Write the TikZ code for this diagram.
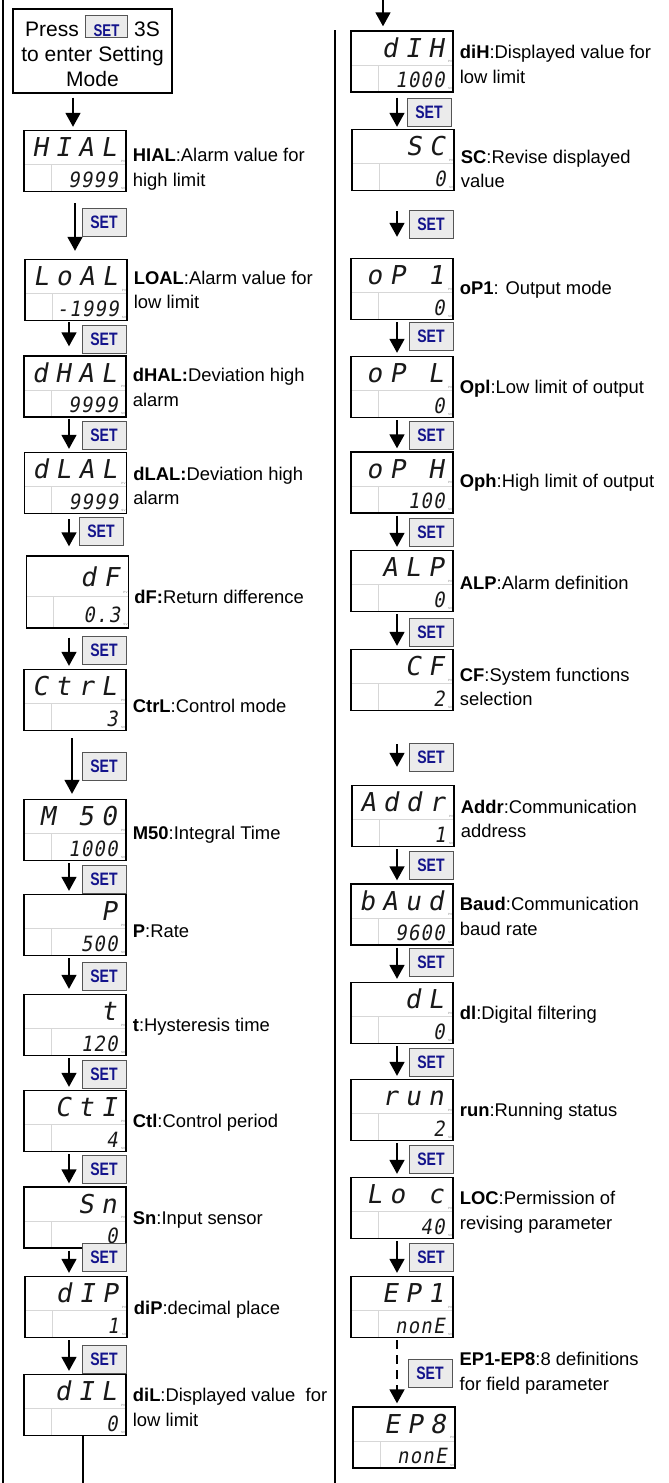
\documentclass[tikz,border=0pt]{standalone}
\usepackage{fontspec}
\setmainfont{Liberation Sans}
\newfontfamily\setbtnfont[FakeStretch=0.78]{Liberation Sans}
\newfontfamily\lcdtopfont[LetterSpace=28,FakeSlant=0.18]{DejaVu Sans Mono}
\newfontfamily\lcdbotfont[LetterSpace=6,FakeStretch=0.9,FakeSlant=0.18]{DejaVu Sans Mono}
\usetikzlibrary{positioning,calc,arrows.meta}
\definecolor{setblue}{RGB}{20,20,140}
\definecolor{setfill}{RGB}{235,235,235}
\definecolor{setedge}{RGB}{85,85,85}
\definecolor{lcdgrid}{RGB}{215,215,215}
\definecolor{lcdink}{RGB}{25,25,25}
% one empty digit cell of the display
\newcommand{\blank}{\hspace{22.9pt}}
% display: [extra style]{name}{centre}{upper row}{lower row}
\newcommand{\lcd}[5][]{%
  \node[lcd,#1] (#2) at (#3) {};
  \node[lcdtop] (#2t) at ($(#2.north east)!0.43!(#2.south east)+(-10,0)$) {#4};
  \node[lcdbot] (#2b) at ($(#2.north east)!0.92!(#2.south east)+(-9,0)$) {#5};
  \node[lcdtag] (#2pv) at ($(#2.north east)!0.5!(#2.south east)+(-1.5,0)$) {PV};
  \node[lcdtag] (#2sv) at ($(#2.north east)!0.94!(#2.south east)+(-1.5,0)$) {SV};
}
% the small key inside the first box
\newcommand{\pressbtn}{{\setlength{\fboxsep}{0pt}\setlength{\fboxrule}{0.8pt}%
  \fcolorbox{setedge}{setfill}{\makebox[42pt]{\rule[-1pt]{0pt}{21pt}%
  \setbtnfont\bfseries\fontsize{17}{17}\selectfont\color{setblue}SET}}}}
\begin{document}
\begin{tikzpicture}[x=1pt,y=-1pt,node distance=6pt,every node/.style={inner sep=1pt}]
\tikzstyle{arrow}=[draw,line width=1.8pt,-{Triangle[width=15pt,length=14pt]},shorten <=2pt,shorten >=3pt]
\tikzstyle{frame}=[draw,line width=1.6pt]
\tikzstyle{lcd}=[draw=black,line width=1.4pt,fill=white,minimum width=102pt,minimum height=61pt,inner sep=0pt,
  path picture={\draw[lcdgrid,line width=1pt]
    ($(path picture bounding box.north west)!0.56!(path picture bounding box.south west)$) coordinate (g)
    -- ($(path picture bounding box.north east)!0.56!(path picture bounding box.south east)$)
    (g) ++(27,0) -- ++(0,40);}]
\tikzstyle{lcdtop}=[anchor=base east,inner sep=0pt,text=lcdink,font=\lcdtopfont\fontsize{26}{26}\selectfont]
\tikzstyle{lcdbot}=[anchor=base east,inner sep=0pt,text=lcdink,font=\lcdbotfont\fontsize{21}{21}\selectfont]
\tikzstyle{lcdtag}=[anchor=east,inner sep=0pt,text=gray,font=\fontsize{3}{3}\selectfont]
\tikzstyle{setbtn}=[draw=setedge,fill=setfill,line width=1pt,minimum width=44pt,minimum height=28pt,inner sep=0pt,
  text=setblue,font=\setbtnfont\bfseries\fontsize{18}{18}\selectfont]
\tikzstyle{lbl}=[align=left,inner sep=0pt,font=\fontsize{18.4}{24.5}\selectfont]
\useasboundingbox (0,0) rectangle (669,1483);

% frame lines
\coordinate (ftop) at (3,0);
\coordinate (fbot) at (3,1483);
\coordinate (stop) at (335,30);
\coordinate (sbot) at (335,1483);
\path[frame](ftop)--(fbot);
\path[frame](stop)--(sbot);

% arrow columns
\coordinate (ax) at (73,0);
\coordinate (bx) at (75,0);
\coordinate (cx) at (72,0);
\coordinate (lx) at (69,0);
\coordinate (rx) at (397,0);
\coordinate (rtop) at (383,0);
\coordinate (lend) at (83,1483);

\node[draw,line width=1.3pt,minimum width=159pt,minimum height=84pt,align=center,inner sep=0pt,
  font=\fontsize{21}{25}\selectfont](start) at (92.5,51){Press \pressbtn{} 3S\\to enter Setting\\Mode};

% left column
\lcd{l1}{75,161}{HIAL}{9999}
\lcd{l2}{76,290}{LoAL}{-1999}
\lcd{l3}{75,386.5}{dHAL}{9999}
\lcd{l4}{75.5,483}{dLAL}{9999}
\lcd[minimum height=72pt]{l5}{77.5,592}{dF\blank}{0.3}
\lcd{l6}{75,700}{CtrL}{3}
\lcd{l7}{75,830}{M\blank 50}{1000}
\lcd{l8}{75,925}{P\blank}{500}
\lcd{l9}{75,1025}{t\blank}{120}
\lcd{l10}{75,1121}{CtI}{4}
\lcd{l11}{75,1217.5}{Sn\blank}{0}
\lcd{l12}{76,1307}{dIP}{1}
\lcd{l13}{75,1405}{dIL}{0}

\node[lbl,right=6pt of l1,yshift=-8pt](lt1){\textbf{HIAL}:Alarm value for\\high limit};
\node[lbl,right=6pt of l2](lt2){\textbf{LOAL}:Alarm value for\\low limit};
\node[lbl,right=6pt of l3,yshift=-1pt](lt3){\textbf{dHAL:}Deviation high\\alarm};
\node[lbl,right=6pt of l4,yshift=-3pt](lt4){\textbf{dLAL:}Deviation high\\alarm};
\node[lbl,right=5pt of l5,yshift=-5pt](lt5){\textbf{dF:}Return difference};
\node[lbl,right=6pt of l6,yshift=-6pt](lt6){\textbf{CtrL}:Control mode};
\node[lbl,right=6pt of l7,yshift=-5pt](lt7){\textbf{M50}:Integral Time};
\node[lbl,right=6pt of l8,yshift=-6pt](lt8){\textbf{P}:Rate};
\node[lbl,right=6pt of l9,yshift=-2pt](lt9){\textbf{t}:Hysteresis time};
\node[lbl,right=6pt of l10,yshift=-2pt](lt10){\textbf{Ctl}:Control period};
\node[lbl,right=6pt of l11,yshift=-2pt](lt11){\textbf{Sn}:Input sensor};
\node[lbl,right=6pt of l12,yshift=-3pt](lt12){\textbf{diP}:decimal place};
\node[lbl,right=6pt of l13,yshift=-2.5pt](lt13){\textbf{diL}:Displayed value\ \ for\\low limit};

\node[setbtn](ls1) at (104,222){SET};
\node[setbtn](ls2) at (104,339){SET};
\node[setbtn](ls3) at (104,435){SET};
\node[setbtn](ls4) at (101,531.5){SET};
\node[setbtn](ls5) at (104,650.5){SET};
\node[setbtn](ls6) at (104,766){SET};
\node[setbtn](ls7) at (104,879.5){SET};
\node[setbtn](ls8) at (104,976){SET};
\node[setbtn](ls9) at (104,1074){SET};
\node[setbtn](ls10) at (104,1169){SET};
\node[setbtn](ls11) at (104,1257){SET};
\node[setbtn](ls12) at (104,1359){SET};

\path[arrow,shorten <=4pt](start.south -| ax)--(l1.north -| ax);
\path[arrow,shorten <=11pt,shorten >=8pt](l1.south -| bx)--(l2.north -| bx);
\path[arrow,shorten <=1pt,shorten >=9pt](l2.south -| lx)--(l3.north -| lx);
\path[arrow,shorten <=1pt](l3.south -| lx)--(l4.north -| lx);
\path[arrow,shorten <=5pt,shorten >=9pt](l4.south -| lx)--(l5.north -| lx);
\path[arrow,shorten <=9pt](l5.south -| lx)--(l6.north -| lx);
\path[arrow,shorten <=7pt,shorten >=5pt](l6.south -| cx)--(l7.north -| cx);
\path[arrow](l7.south -| lx)--(l8.north -| lx);
\path[arrow,shorten >=5pt](l8.south -| lx)--(l9.north -| lx);
\path[arrow](l9.south -| lx)--(l10.north -| lx);
\path[arrow](l10.south -| lx)--(l11.north -| lx);
\path[arrow](l11.south -| lx)--(l12.north -| lx);
\path[arrow](l12.south -| lx)--(l13.north -| lx);
\path[frame](l13.south -| lend)--(lend);

% right column
\lcd{r1}{402,61.5}{dIH}{1000}
\lcd{r2}{403,160}{SC\blank}{0}
\lcd{r3}{402,289}{oP\blank 1}{0}
\lcd{r4}{402,387}{oP\blank L}{0}
\lcd{r5}{402,482.5}{oP\blank H}{100}
\lcd{r6}{402,581}{ALP}{0}
\lcd{r7}{402,680}{CF\blank}{2}
\lcd{r8}{403,816}{Addr}{1}
\lcd{r9}{402,914.5}{bAud}{9600}
\lcd{r10}{402,1013}{dL\blank}{0}
\lcd{r11}{402,1110}{run}{2}
\lcd{r12}{402,1208}{Lo\blank c}{40}
\lcd{r13}{402,1307}{EP1}{nonE}
\lcd{r14}{404,1437.5}{EP8}{nonE}

\node[lbl,right=6pt of r1,yshift=-3pt](rt1){\textbf{diH}:Displayed value for\\low limit};
\node[lbl,right=6pt of r2,yshift=-9pt](rt2){\textbf{SC}:Revise displayed\\value};
\node[lbl,right=6pt of r3,yshift=-1pt](rt3){\textbf{oP1}: Output mode};
\node[lbl,right=6pt of r4,yshift=-2pt](rt4){\textbf{Opl}:Low limit of output};
\node[lbl,right=6pt of r5](rt5){\textbf{Oph}:High limit of output};
\node[lbl,right=6pt of r6,yshift=-2pt](rt6){\textbf{ALP}:Alarm definition};
\node[lbl,right=6pt of r7,yshift=-7pt](rt7){\textbf{CF}:System functions\\selection};
\node[lbl,right=6pt of r8,yshift=-3pt](rt8){\textbf{Addr}:Communication\\address};
\node[lbl,right=6pt of r9,yshift=-2pt](rt9){\textbf{Baud}:Communication\\baud rate};
\node[lbl,right=6pt of r10,yshift=-2pt](rt10){\textbf{dl}:Digital filtering};
\node[lbl,right=6pt of r11,yshift=-2pt](rt11){\textbf{run}:Running status};
\node[lbl,right=6pt of r12,yshift=-4pt](rt12){\textbf{LOC}:Permission of\\revising parameter};

\node[setbtn](rs1) at (429,112){SET};
\node[setbtn](rs2) at (431,224){SET};
\node[setbtn](rs3) at (431,336){SET};
\node[setbtn](rs4) at (431,435){SET};
\node[setbtn](rs5) at (431,532){SET};
\node[setbtn](rs6) at (431,632){SET};
\node[setbtn](rs7) at (431,757){SET};
\node[setbtn](rs8) at (431,865){SET};
\node[setbtn](rs9) at (431,962.5){SET};
\node[setbtn](rs10) at (431,1062){SET};
\node[setbtn](rs11) at (431,1159){SET};
\node[setbtn](rs12) at (431,1257){SET};
\node[setbtn](rs13) at (430,1373){SET};
\node[lbl,right=7pt of rs13](rt13){\textbf{EP1-EP8}:8 definitions\\for field parameter};

\path[arrow,shorten <=0pt,shorten >=4pt](rtop)--(r1.north -| rtop);
\path[arrow,shorten <=5pt,shorten >=2pt](r1.south -| rx)--(r2.north -| rx);
\path[arrow,shorten <=20pt,shorten >=21pt](r2.south -| rx)--(r3.north -| rx);
\path[arrow](r3.south -| rx)--(r4.north -| rx);
\path[arrow](r4.south -| rx)--(r5.north -| rx);
\path[arrow](r5.south -| rx)--(r6.north -| rx);
\path[arrow](r6.south -| rx)--(r7.north -| rx);
\path[arrow,shorten <=33pt,shorten >=18pt](r7.south -| rx)--(r8.north -| rx);
\path[arrow](r8.south -| rx)--(r9.north -| rx);
\path[arrow](r9.south -| rx)--(r10.north -| rx);
\path[arrow](r10.south -| rx)--(r11.north -| rx);
\path[arrow](r11.south -| rx)--(r12.north -| rx);
\path[arrow](r12.south -| rx)--(r13.north -| rx);
\path[arrow,dash pattern=on 9pt off 6pt](r13.south -| rx)--(r14.north -| rx);
\end{tikzpicture}
\end{document}
